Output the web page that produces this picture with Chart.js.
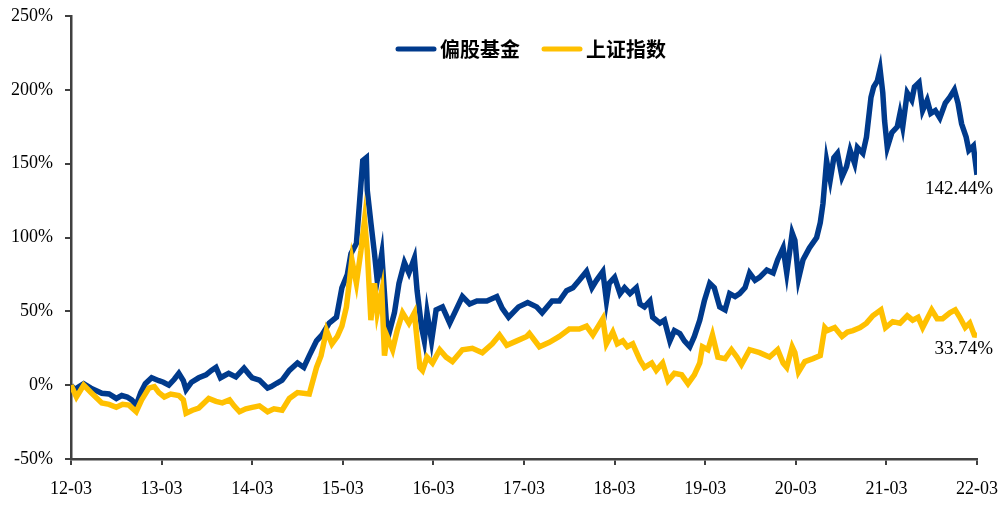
<!DOCTYPE html>
<html>
<head>
<meta charset="utf-8">
<script src="https://cdn.jsdelivr.net/npm/chart.js@4.4.1/dist/chart.umd.min.js"></script>
<style>
  html, body { margin: 0; padding: 0; background: #fff; }
  #wrap { width: 1000px; height: 521px; }
</style>
</head>
<body>
<div id="wrap"><canvas id="chart" width="1000" height="521"></canvas></div>
<script>
// x positions are years since 2012-03
const yearLabels = ['12-03', '13-03', '14-03', '15-03', '16-03', '17-03', '18-03', '19-03', '20-03', '21-03', '22-03'];

const fundT = [0.00, 0.04, 0.09, 0.14, 0.22, 0.34, 0.42, 0.50, 0.56, 0.62, 0.67, 0.72, 0.77, 0.82, 0.89, 0.97,
  1.02, 1.08, 1.14, 1.19, 1.24, 1.27, 1.33, 1.41, 1.49, 1.55, 1.60, 1.65, 1.74, 1.82, 1.91, 1.97,
  2.00, 2.08, 2.17, 2.21, 2.27, 2.33, 2.41, 2.50, 2.57, 2.63, 2.71, 2.77, 2.85, 2.93, 2.99,
  3.05, 3.09, 3.15, 3.18, 3.22, 3.26, 3.27, 3.31, 3.35, 3.38, 3.43, 3.44, 3.48, 3.51, 3.57, 3.62, 3.68, 3.73, 3.79, 3.82, 3.87, 3.90, 3.93, 3.98,
  4.03, 4.10, 4.18, 4.25, 4.32, 4.40, 4.48, 4.59, 4.70, 4.76, 4.83, 4.94,
  5.04, 5.14, 5.20, 5.31, 5.39, 5.47, 5.54, 5.61, 5.69, 5.75, 5.80, 5.87, 5.91, 5.94,
  6.00, 6.06, 6.11, 6.17, 6.24, 6.28, 6.33, 6.39, 6.42, 6.50, 6.55, 6.61, 6.66, 6.72, 6.77, 6.83, 6.88, 6.94, 6.99,
  7.05, 7.10, 7.16, 7.22, 7.27, 7.33, 7.38, 7.44, 7.49, 7.55, 7.60, 7.68, 7.75, 7.80, 7.86, 7.90, 7.96, 7.99,
  8.03, 8.08, 8.15, 8.23, 8.27, 8.30, 8.34, 8.38, 8.42, 8.46, 8.51, 8.56, 8.60, 8.65, 8.68, 8.74, 8.78, 8.83, 8.86, 8.90, 8.93, 8.96, 8.98,
  9.01, 9.06, 9.12, 9.15, 9.18, 9.23, 9.28, 9.31, 9.36, 9.40, 9.45, 9.49, 9.54, 9.59, 9.65, 9.70, 9.75, 9.79, 9.83, 9.88, 9.91, 9.96, 10.00];
const fundValues = [0, -3, -1, 1, -2, -5.5, -6, -9, -7, -8, -10, -13.5, -5, 1, 5, 3,
  2, 0, 4, 8, 3, -3, 2, 5, 7, 10, 12, 5, 8, 5.6, 11.5, 7,
  5, 3.4, -2, -1, 1.3, 3.4, 10, 15, 12, 20, 30, 34, 42, 46, 66,
  75, 89, 96, 120, 152, 154, 132, 110, 89, 71, 89, 80, 44, 35, 49, 69, 83, 76, 86, 64, 39, 30, 49, 30,
  51, 53, 42, 51, 60, 55, 57, 57, 60, 52, 46, 53,
  56, 53, 49, 57, 57, 64, 66, 71, 77, 66, 71, 77, 57, 69,
  73, 62, 66, 62, 66, 55, 53, 57, 46, 42, 44, 30, 37, 35, 30, 26, 33, 44, 57,
  69, 66, 53, 51, 62, 60, 62, 66, 76, 71, 73, 78, 76, 85, 93, 76, 103, 98,
  72, 85, 93, 100, 110, 123, 152, 139, 154, 157, 141, 148, 159, 150, 161, 157, 168, 195, 202, 206, 214, 198, 179,
  161, 171, 175, 184, 175, 198, 193, 202, 205, 186, 193, 184, 186, 181, 191, 195, 200, 191, 177, 168, 159, 162, 142.44];

const indexT = [0.00, 0.06, 0.10, 0.14, 0.22, 0.34, 0.42, 0.50, 0.57, 0.64, 0.72, 0.78, 0.86, 0.92, 0.97,
  1.03, 1.10, 1.19, 1.24, 1.27, 1.34, 1.41, 1.52, 1.60, 1.67, 1.75, 1.80, 1.86, 1.93,
  2.00, 2.08, 2.17, 2.24, 2.33, 2.41, 2.50, 2.63, 2.71, 2.76, 2.82, 2.88, 2.94, 2.99,
  3.04, 3.10, 3.15, 3.20, 3.24, 3.27, 3.31, 3.35, 3.38, 3.43, 3.46, 3.49, 3.55, 3.60, 3.66, 3.73, 3.79, 3.85, 3.88, 3.93, 3.99,
  4.07, 4.14, 4.21, 4.32, 4.43, 4.54, 4.65, 4.73, 4.81, 4.92,
  5.03, 5.06, 5.17, 5.28, 5.39, 5.50, 5.61, 5.69, 5.76, 5.81, 5.87, 5.91, 5.98,
  6.03, 6.09, 6.14, 6.20, 6.28, 6.33, 6.41, 6.46, 6.53, 6.59, 6.66, 6.74, 6.81, 6.88, 6.94, 6.97,
  7.03, 7.08, 7.14, 7.22, 7.29, 7.35, 7.40, 7.49, 7.60, 7.71, 7.80, 7.86, 7.90, 7.96, 7.99,
  8.03, 8.10, 8.19, 8.27, 8.32, 8.35, 8.43, 8.51, 8.57, 8.63, 8.71, 8.78, 8.85, 8.94, 8.99,
  9.07, 9.15, 9.23, 9.29, 9.35, 9.40, 9.50, 9.56, 9.62, 9.70, 9.76, 9.81, 9.87, 9.92, 9.97, 10.00];
const indexValues = [0, -8, -4, 0, -5, -12, -13, -15, -13, -13.5, -18, -10, -2, -1, -5,
  -8, -6, -7, -10, -19, -17, -15.5, -9, -11, -12, -10, -14, -18, -16,
  -15, -14, -18, -16, -17, -9, -5, -6, 12, 20, 37, 28, 33, 40,
  53, 85, 69, 91, 112, 91, 44, 69, 49, 64, 20, 33, 24, 37, 49, 42, 49, 12, 10, 19, 15,
  24, 19, 16, 24, 25, 22, 28, 34, 27, 30,
  33, 35, 26, 29, 33, 38, 38, 40, 34, 39, 45, 28, 36,
  28, 30, 26, 28, 17, 12, 15, 10, 15, 3, 8, 7, 1, 7, 15, 26,
  24, 34, 19, 18, 24, 19, 14, 24, 22, 19, 24, 15, 12, 26, 22,
  9, 16, 18, 20, 39, 37, 39, 33, 36, 37, 39, 42, 47, 51, 39,
  43, 42, 47, 44, 46, 39, 51, 45, 45, 49, 51, 46, 39, 42, 34, 33.74];

const seriesNames = ['偏股基金', '上证指数'];
const blue = '#003a8c';
const gold = '#ffc000';
const axisColor = '#404040';
const serif = "'Liberation Serif', 'DejaVu Serif', serif";

// last-value labels at the right end of each line
const endLabels = {
  id: 'endLabels',
  afterDatasetsDraw(chart) {
    const { ctx, scales: { x, y } } = chart;
    ctx.save();
    ctx.font = '19px ' + serif;
    ctx.fillStyle = '#000';
    ctx.textAlign = 'right';
    ctx.textBaseline = 'middle';
    chart.data.datasets.forEach(ds => {
      const last = ds.data[ds.data.length - 1];
      ctx.fillText(last.y.toFixed(2) + '%', x.getPixelForValue(last.x) + 16, y.getPixelForValue(last.y) + 14);
    });
    ctx.restore();
  }
};

// horizontal legend inside the plot, near the top
const topLegend = {
  id: 'topLegend',
  afterDraw(chart) {
    const { ctx, chartArea } = chart;
    const sample = 40, gapText = 4, gapItem = 22;
    ctx.save();
    ctx.font = "bold 20px 'Noto Sans CJK SC', sans-serif";
    const items = chart.data.datasets.map(ds => ({ text: ds.label, color: ds.borderColor, w: ctx.measureText(ds.label).width }));
    const total = items.reduce((s, it) => s + sample + gapText + it.w, 0) + gapItem * (items.length - 1);
    let x = (chartArea.left + chartArea.right) / 2 + 7 - total / 2;
    const y = chartArea.top + 33;
    ctx.textBaseline = 'middle';
    ctx.textAlign = 'left';
    items.forEach(it => {
      ctx.strokeStyle = it.color;
      ctx.lineWidth = 5;
      ctx.lineCap = 'round';
      ctx.beginPath();
      ctx.moveTo(x + 2, y);
      ctx.lineTo(x + sample - 2, y);
      ctx.stroke();
      x += sample + gapText;
      ctx.fillStyle = '#000';
      ctx.fillText(it.text, x, y);
      x += it.w + gapItem;
    });
    ctx.restore();
  }
};

new Chart(document.getElementById('chart'), {
  type: 'line',
  data: {
    datasets: [{
      label: seriesNames[0],
      data: fundT.map((t, i) => ({ x: t, y: fundValues[i] })),
      borderColor: blue,
      backgroundColor: blue,
      borderWidth: 5.5,
      pointRadius: 0,
      tension: 0,
      order: 1
    }, {
      label: seriesNames[1],
      data: indexT.map((t, i) => ({ x: t, y: indexValues[i] })),
      borderColor: gold,
      backgroundColor: gold,
      borderWidth: 5.5,
      pointRadius: 0,
      tension: 0,
      order: 0
    }]
  },
  options: {
    responsive: false,
    animation: false,
    layout: { padding: { top: 16, right: 23, left: 0, bottom: 0 } },
    plugins: {
      tooltip: { enabled: false },
      legend: { display: false }
    },
    scales: {
      x: {
        type: 'linear',
        min: 0,
        max: 10,
        afterFit: s => { s.height = 62; s.paddingLeft = 0; s.paddingRight = 0; },
        ticks: {
          stepSize: 1,
          autoSkip: false,
          maxRotation: 0,
          padding: 13,
          color: '#000',
          font: { family: serif, size: 18 },
          callback: v => yearLabels[v]
        },
        grid: { drawOnChartArea: false, drawTicks: true, tickLength: 6, color: axisColor, lineWidth: 2 },
        border: { display: true, color: axisColor, width: 2.5 }
      },
      y: {
        min: -50,
        max: 250,
        afterFit: s => { s.width = 71; s.paddingTop = 0; s.paddingBottom = 0; },
        ticks: {
          stepSize: 50,
          padding: 12,
          color: '#000',
          font: { family: serif, size: 18 },
          callback: v => v + '%'
        },
        grid: { drawOnChartArea: false, drawTicks: true, tickLength: 6, color: axisColor, lineWidth: 2 },
        border: { display: true, color: axisColor, width: 2.5 }
      }
    }
  },
  plugins: [endLabels, topLegend]
});
</script>
</body>
</html>
